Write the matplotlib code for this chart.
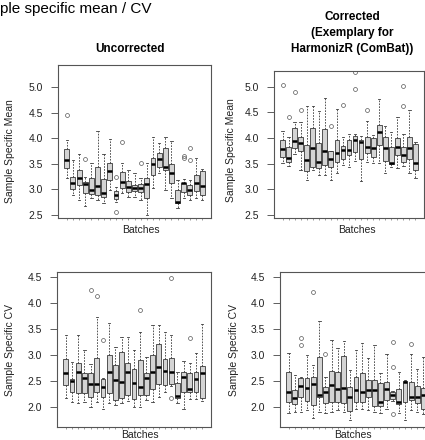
import matplotlib
matplotlib.use("Agg")
import matplotlib.pyplot as plt

plt.rcParams["font.family"] = ["Liberation Sans", "DejaVu Sans"]

batches = list(range(1, 24))

# uncorrected, sample specific mean
unc_mean_med = [3.57, 3.12, 3.22, 3.10, 2.99, 3.07, 2.92, 3.36, 2.89, 3.15, 3.05, 3.02,
                3.02, 3.11, 3.49, 3.59, 3.43, 3.31, 2.76, 3.12, 2.99, 3.12, 3.07]
unc_mean_q1 = [3.41, 3.00, 3.09, 2.92, 2.90, 2.89, 2.86, 3.18, 2.81, 3.02, 2.94, 2.96,
               2.94, 2.83, 3.28, 3.43, 3.38, 3.13, 2.73, 2.94, 2.89, 2.96, 2.89]
unc_mean_q3 = [3.78, 3.25, 3.38, 3.15, 3.22, 3.44, 3.20, 3.51, 2.97, 3.33, 3.17, 3.09,
               3.10, 3.22, 3.61, 3.72, 3.81, 3.49, 2.99, 3.13, 3.09, 3.28, 3.35]
unc_mean_lo = [3.22, 2.89, 2.79, 2.67, 2.83, 2.79, 2.73, 2.99, 2.76, 2.92, 2.86, 2.85,
               2.79, 2.50, 3.02, 3.31, 2.99, 2.83, 2.63, 2.83, 2.79, 2.83, 2.79]
unc_mean_hi = [3.96, 3.57, 3.70, 3.25, 3.52, 4.14, 3.70, 3.98, 3.05, 3.51, 3.38, 3.31,
               3.22, 3.51, 4.02, 3.90, 4.02, 3.95, 3.18, 3.20, 3.18, 3.61, 3.39]
unc_mean_out = {0: [4.45], 3: [3.59], 8: [3.24, 2.56], 9: [3.92], 12: [3.51],
                19: [3.66, 3.61], 20: [3.80, 3.57]}

# corrected, sample specific mean
cor_mean_med = [3.78, 3.61, 3.95, 3.91, 3.57, 3.80, 3.54, 3.74, 3.59, 3.70, 3.76, 3.77,
                3.97, 3.93, 3.83, 3.81, 4.12, 3.81, 3.51, 3.83, 3.67, 3.80, 3.51]
cor_mean_q1 = [3.64, 3.54, 3.80, 3.74, 3.35, 3.43, 3.41, 3.48, 3.44, 3.54, 3.59, 3.67,
               3.72, 3.59, 3.70, 3.64, 3.87, 3.56, 3.50, 3.67, 3.54, 3.59, 3.38]
cor_mean_q3 = [3.96, 3.82, 4.19, 4.02, 3.87, 4.19, 3.90, 4.17, 3.75, 3.96, 3.85, 3.96,
               4.05, 3.96, 4.03, 4.00, 4.26, 4.02, 3.83, 4.00, 3.82, 4.02, 3.89]
cor_mean_lo = [3.51, 3.46, 3.68, 3.38, 3.18, 3.38, 3.28, 3.28, 3.18, 3.31, 3.48, 3.44,
               3.55, 3.17, 3.54, 3.51, 3.51, 3.31, 3.44, 3.41, 3.46, 3.31, 3.22]
cor_mean_hi = [4.14, 4.03, 4.32, 4.32, 4.62, 4.63, 4.52, 4.78, 3.75, 4.56, 4.03, 4.08,
               4.08, 4.04, 4.34, 4.06, 4.76, 4.23, 4.11, 4.42, 4.08, 4.55, 3.93]
cor_mean_out = {0: [5.04], 1: [4.41], 2: [4.90], 3: [4.55], 8: [4.23], 10: [4.65],
                12: [5.30, 4.96], 14: [4.55], 20: [5.01, 4.62]}

# uncorrected, sample specific CV
unc_cv_med = [2.65, 2.50, 2.67, 2.56, 2.44, 2.44, 2.39, 2.68, 2.52, 2.49, 2.67, 2.46,
              2.39, 2.55, 2.67, 2.76, 2.69, 2.68, 2.22, 2.58, 2.35, 2.54, 2.65]
unc_cv_q1 = [2.42, 2.29, 2.26, 2.26, 2.20, 2.29, 2.20, 2.26, 2.13, 2.17, 2.24, 2.15,
             2.23, 2.23, 2.35, 2.44, 2.42, 2.44, 2.18, 2.28, 2.29, 2.28, 2.18]
unc_cv_q3 = [2.92, 2.54, 2.84, 2.65, 2.65, 2.95, 2.54, 3.00, 2.81, 3.05, 2.84, 2.74,
             2.90, 2.65, 3.00, 3.21, 2.92, 2.94, 2.47, 2.68, 2.65, 2.68, 2.79]
unc_cv_lo = [2.17, 2.10, 2.07, 2.10, 2.00, 2.10, 1.97, 2.07, 2.04, 2.07, 2.12, 2.00,
             2.00, 2.13, 2.10, 2.20, 2.29, 2.40, 2.07, 1.96, 2.15, 2.15, 2.12]
unc_cv_hi = [3.38, 2.87, 3.38, 3.10, 2.82, 3.74, 2.56, 3.61, 3.16, 3.35, 3.35, 3.10,
             3.44, 2.97, 3.58, 3.58, 3.44, 3.38, 2.68, 2.88, 2.85, 3.03, 3.59]
unc_cv_out = {4: [4.25], 5: [4.14], 6: [3.29], 12: [3.87], 17: [4.49, 2.17], 20: [3.32]}

# corrected, sample specific CV
cor_cv_med = [2.28, 2.17, 2.40, 2.36, 2.45, 2.23, 2.29, 2.42, 2.35, 2.36, 2.20, 2.33,
              2.29, 2.33, 2.33, 2.10, 2.35, 2.24, 2.10, 2.49, 2.20, 2.20, 2.23]
cor_cv_q1 = [2.10, 2.06, 2.20, 2.12, 2.04, 2.20, 2.07, 2.10, 2.10, 2.07, 1.92, 2.10,
             2.10, 2.20, 2.01, 2.01, 2.13, 2.15, 2.05, 2.10, 2.13, 2.07, 1.97]
cor_cv_q3 = [2.67, 2.33, 2.56, 2.55, 2.58, 2.97, 2.38, 2.69, 2.68, 2.98, 2.38, 2.58,
             2.65, 2.52, 2.52, 2.46, 2.49, 2.29, 2.35, 2.50, 2.49, 2.40, 2.37]
cor_cv_lo = [1.88, 1.91, 1.91, 1.94, 1.78, 1.91, 1.88, 1.91, 1.94, 1.91, 1.75, 1.96,
             1.97, 1.94, 1.91, 1.88, 1.97, 2.12, 1.88, 1.75, 1.94, 1.91, 1.86]
cor_cv_hi = [3.03, 2.62, 2.57, 3.00, 2.80, 3.66, 2.58, 3.29, 3.13, 3.27, 2.72, 3.10,
             3.24, 2.94, 3.19, 2.65, 3.01, 2.30, 2.68, 2.52, 3.01, 2.73, 2.97]
cor_cv_out = {2: [3.32, 3.19], 4: [4.22], 6: [3.01], 17: [3.25, 2.77, 1.87], 20: [3.21]}

mean_ticks = [2.5, 3.0, 3.5, 4.0, 4.5, 5.0]
cv_ticks = [2.0, 2.5, 3.0, 3.5, 4.0, 4.5]

W, H = 425, 440


def px_axes(fig, left, top, right, bottom):
    return fig.add_axes([left / W, (H - bottom) / H, (right - left) / W, (bottom - top) / H])


def draw_panel(ax, med, q1, q3, lo, hi, out, ylim, yticks, ylabel, ylab_xy, xlab_xy):
    stats = []
    for i in range(len(med)):
        stats.append(dict(med=med[i], q1=q1[i], q3=q3[i], whislo=lo[i], whishi=hi[i],
                          fliers=out.get(i, [])))
    ax.bxp(stats, positions=batches, widths=0.8, capwidths=0.4, patch_artist=True,
           manage_ticks=False,
           boxprops=dict(facecolor="#d4d4d4", edgecolor="#3a3a3a", linewidth=0.6),
           medianprops=dict(color="black", linewidth=1.8, solid_capstyle="butt"),
           whiskerprops=dict(color="#3a3a3a", linewidth=0.6, linestyle=(0, (2, 1.5))),
           capprops=dict(color="#3a3a3a", linewidth=0.6),
           flierprops=dict(marker="o", markersize=2.8, markerfacecolor="none",
                           markeredgecolor="#555555", markeredgewidth=0.5))
    ax.set_xlim(-0.42, 24.42)
    ax.set_ylim(*ylim)
    ax.set_yticks(yticks)
    ax.set_yticklabels([f"{t:.1f}" for t in yticks])
    ax.set_xticks(batches)
    ax.set_xticklabels([])
    ax.tick_params(axis="y", direction="out", length=5, width=0.6, pad=6,
                   labelsize=7.5, color="#444444", labelcolor="#222222")
    ax.tick_params(axis="x", direction="out", length=1.3, width=0.5, color="#777777")
    for sp in ax.spines.values():
        sp.set_color("#555555")
        sp.set_linewidth(0.8)
    ax.set_ylabel(ylabel, fontsize=7.5, color="#222222")
    ax.yaxis.set_label_coords(*ylab_xy)
    ax.set_xlabel("Batches", fontsize=7.5, color="#222222", va="center")
    ax.xaxis.set_label_coords(*xlab_xy)


fig = plt.figure(figsize=(W / 100, H / 100), dpi=100)

ax_a = px_axes(fig, 58, 65, 211, 218)
draw_panel(ax_a, unc_mean_med, unc_mean_q1, unc_mean_q3, unc_mean_lo, unc_mean_hi,
           unc_mean_out, (2.44, 5.43), mean_ticks, "Sample Specific Mean",
           (-0.28, 0.44), (0.54, -0.08))

ax_b = px_axes(fig, 274, 71, 424, 218)
draw_panel(ax_b, cor_mean_med, cor_mean_q1, cor_mean_q3, cor_mean_lo, cor_mean_hi,
           cor_mean_out, (2.44, 5.31), mean_ticks, "Sample Specific Mean",
           (-0.25, 0.46), (0.55, -0.085))

ax_c = px_axes(fig, 57, 272, 211, 427)
draw_panel(ax_c, unc_cv_med, unc_cv_q1, unc_cv_q3, unc_cv_lo, unc_cv_hi,
           unc_cv_out, (1.615, 4.596), cv_ticks, "Sample Specific CV",
           (-0.27, 0.5), (0.54, -0.049))

ax_d = px_axes(fig, 280, 272, 432, 427)
draw_panel(ax_d, cor_cv_med, cor_cv_q1, cor_cv_q3, cor_cv_lo, cor_cv_hi,
           cor_cv_out, (1.615, 4.596), cv_ticks, "Sample Specific CV",
           (-0.27, 0.5), (0.48, -0.049))

fig.text(0.0, 1 - 9 / H, "ple specific mean / CV", fontsize=11, ha="left", va="center")
fig.text(130 / W, 1 - 49 / H, "Uncorrected", fontsize=8.5, fontweight="bold",
         ha="center", va="center")
fig.text(352 / W, 1 - 33 / H, "Corrected\n(Exemplary for\nHarmonizR (ComBat))",
         fontsize=8.5, fontweight="bold", ha="center", va="center", linespacing=1.45)

fig.savefig("out.png", dpi=100)
